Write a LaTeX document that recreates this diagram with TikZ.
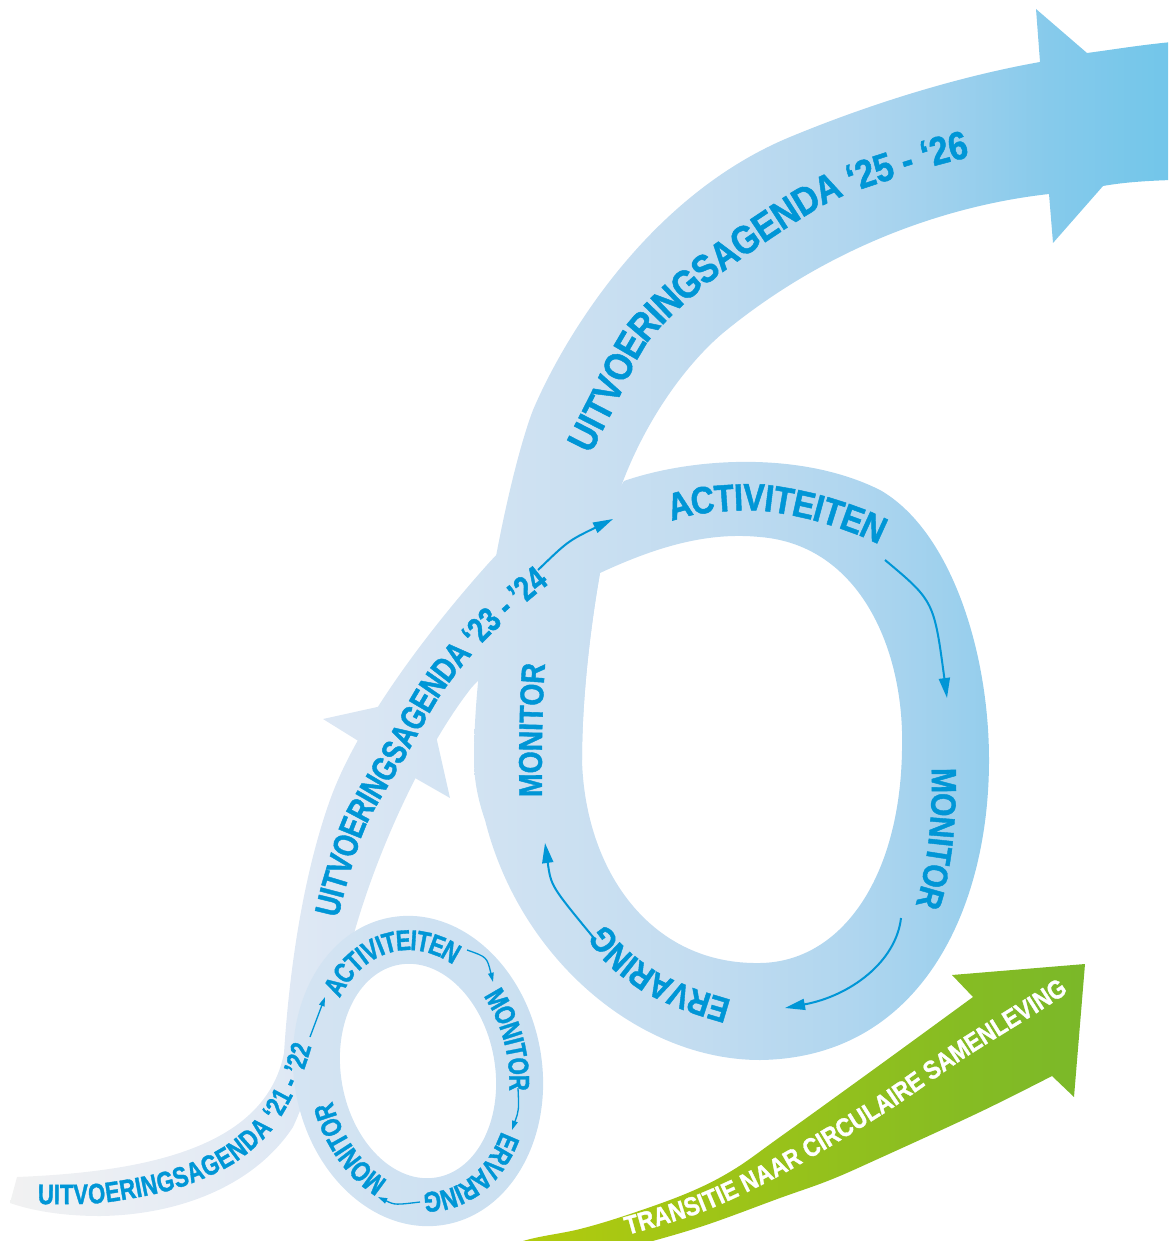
\documentclass[tikz,border=0pt]{standalone}
\usepackage{fontspec}
\newfontfamily\lbl[FakeStretch=0.86,FakeBold=1.2]{Liberation Sans}
\newfontfamily\lblc[FakeStretch=0.78,FakeBold=1.2]{Liberation Sans}
\usetikzlibrary{decorations.text,arrows.meta}
\definecolor{tb}{HTML}{0096D6}
\definecolor{r0}{HTML}{F2F2F2}
\definecolor{r1}{HTML}{E8EDF4}
\definecolor{r2}{HTML}{DEE8F4}
\definecolor{r3}{HTML}{D0E2F2}
\definecolor{r4}{HTML}{C2DCF0}
\definecolor{r5}{HTML}{B0D6EF}
\definecolor{r6}{HTML}{9DD0ED}
\definecolor{r7}{HTML}{86CAEB}
\definecolor{r8}{HTML}{72C6EA}
\definecolor{g0}{HTML}{B7CD0B}
\definecolor{g1}{HTML}{7AB829}
\pgfdeclarehorizontalshading{ribbon}{100bp}{color(0bp)=(r0); color(25bp)=(r0); color(31.42bp)=(r1); color(37.84bp)=(r2); color(46.40bp)=(r3); color(54.97bp)=(r4); color(61.39bp)=(r5); color(65.67bp)=(r6); color(69.95bp)=(r7); color(75bp)=(r8); color(100bp)=(r8)}
\tikzset{
  bigarrow/.style={tb, line width=0.5pt, -{Triangle[length=5pt,width=2.75pt]}},
  smallarrow/.style={tb, line width=0.33pt, -{Triangle[length=2.3pt,width=1.4pt]}},
}
\begin{document}
\begin{tikzpicture}[x=0.25pt,y=-0.25pt]
\useasboundingbox (0,0) rectangle (1168,1241);
\clip (0,0) rectangle (1168,1241);

% ---- ribbon: start band, '21-'22 and '23-'24
\begin{scope}
\clip (17,1177) .. controls (140,1172) and (265,1150) .. (284,1053)
  .. controls (290,960) and (305,870) .. (330,800)
  .. controls (355,730) and (420,640) .. (487,565)
  .. controls (520,528) and (550,508) .. (575,500)
  -- (560,598) -- (472,687)
  .. controls (430,740) and (380,840) .. (353,937)
  .. controls (335,1000) and (315,1080) .. (293,1127)
  .. controls (255,1185) and (180,1215) .. (100,1216)
  .. controls (60,1216) and (30,1210) .. (10,1203) -- cycle;
\shade[shading=ribbon] (0,0) rectangle (1168,1241);
\end{scope}
% barbs of the first arrow head
\begin{scope}
\clip (323,719) -- (427,696) -- (450,798) -- (415,778) -- (360,742) -- cycle;
\shade[shading=ribbon] (0,0) rectangle (1168,1241);
\end{scope}
% small ring
\begin{scope}[even odd rule, rotate around={10:(418,1071)}]
\clip (418,1071) ellipse [x radius=124, y radius=156] (418,1071) ellipse [x radius=77, y radius=108];
\shade[shading=ribbon] (-200,-200) rectangle (1400,1500);
\end{scope}
% big loop
\begin{scope}[even odd rule]
\clip (624,481) .. controls (690,458) and (800,450) .. (880,490)
  .. controls (950,530) and (989,650) .. (989,760)
  .. controls (989,910) and (920,1058) .. (760,1060)
  .. controls (640,1060) and (520,960) .. (485,820)
  .. controls (478,800) and (474,780) .. (474,760)
  -- (560,570) -- (600,520) -- cycle
  (600,573) .. controls (660,545) and (710,532) .. (760,537)
  .. controls (860,545) and (905,650) .. (902,750)
  .. controls (900,880) and (840,962) .. (760,963)
  .. controls (650,965) and (585,870) .. (582,760)
  .. controls (582,700) and (590,630) .. (600,573) -- cycle;
\shade[shading=ribbon] (0,0) rectangle (1168,1241);
\end{scope}
% upward band with arrow head
\begin{scope}
\clip (474,760) .. controls (474,640) and (510,470) .. (533,410)
  .. controls (565,335) and (650,195) .. (790,137)
  .. controls (860,108) and (950,78) .. (1040,62)
  -- (1036,9) -- (1087,53) .. controls (1110,50) and (1140,45) .. (1172,42)
  -- (1172,180) .. controls (1140,181) and (1120,183) .. (1103,186)
  -- (1053,243) -- (1049,194)
  .. controls (950,205) and (830,245) .. (723,333)
  .. controls (670,378) and (612,470) .. (600,573)
  .. controls (590,630) and (582,700) .. (582,760) -- cycle;
\shade[shading=ribbon] (0,0) rectangle (1168,1241);
\end{scope}

% ---- green arrow
\shade[left color=g0, right color=g1] plot[smooth, tension=0.6] coordinates {(470,1262) (523,1241) (580,1229) (633,1213) (690,1192) (733,1170) (780,1137) (877,1067) (973,997)}
 -- (952,975) -- (1085,964) -- (1074,1097) -- (1052,1076)
 -- plot[smooth, tension=0.6] coordinates {(1052,1076) (980,1112) (880,1158) (830,1180) (780,1198) (700,1227) (620,1250) (560,1266)} -- cycle;

% ---- small cycle arrows
\coordinate (s1s) at (310,1037); \coordinate (s1e) at (325,997);
\coordinate (s2s) at (467,950);  \coordinate (s2e) at (493,982);
\coordinate (s3s) at (518,1088); \coordinate (s3e) at (512,1130);
\coordinate (s4s) at (420,1202); \coordinate (s4e) at (378,1197);
\draw[smallarrow] (s1s) -- (s1e);
\draw[smallarrow] (s2s) .. controls (487,957) .. (s2e);
\draw[smallarrow] (s3s) .. controls (519,1110) .. (s3e);
\draw[smallarrow] (s4s) .. controls (395,1205) .. (s4e);

% ---- big cycle arrows
\coordinate (b1s) at (538,570); \coordinate (b1e) at (613,519);
\coordinate (b2s) at (885,560); \coordinate (b2e) at (947,698);
\coordinate (b3s) at (901,918); \coordinate (b3e) at (785,1008);
\coordinate (b4s) at (593,937); \coordinate (b4e) at (545,843);
\draw[bigarrow] (b1s) .. controls (568,541) .. (b1e);
\draw[bigarrow] (b2s) .. controls (934,601) .. (b2e);
\draw[bigarrow] (b3s) .. controls (896,962) and (850,996) .. (b3e);
\draw[bigarrow] (b4s) .. controls (551,886) .. (b4e);

% ---- texts along the ribbon
\path[decorate, decoration={text along path, text color=tb, raise=-2.5pt,
  text={|\lblc\bfseries\fontsize{7.05}{7.05}\selectfont|UITVOERINGSAGENDA ‘21 - ’22}}]
  plot[smooth] coordinates {(38,1194) (100,1193) (170,1180) (225,1157) (263,1125) (287,1085) (300,1050) (310,1010) (318,960) (330,900)};
\path[decorate, decoration={text along path, text color=tb, raise=-3.1pt,
  text={|\lblc\bfseries\fontsize{8.7}{8.7}\selectfont|UITVOERINGSAGENDA ‘23 - ’24}}]
  plot[smooth] coordinates {(326,915) (335,880) (355,820) (395,750) (431,687) (470,638) (510,600) (550,568) (600,540) (650,520) (700,505)};
\path[decorate, decoration={text along path, text color=tb, raise=-3.5pt,
  text={|\lbl\bfseries\fontsize{9.9}{9.9}\selectfont|UITVOERINGSAGENDA ‘25 - ‘26}}]
  plot[smooth] coordinates {(578,448) (600,405) (638,332) (705,268) (815,194) (890,165) (960,145) (1040,132) (1100,125) (1160,120)};

% ---- big cycle labels
\path[decorate, decoration={text along path, text color=tb, raise=-3.4pt,
  text={|\lbl\bfseries\fontsize{9.5}{9.5}\selectfont|ACTIVITEITEN}}]
  plot[smooth] coordinates {(668,508) (700,500) (760,497) (820,508) (880,530) (930,565) (960,620) (975,680)};
\path[decorate, decoration={text along path, text color=tb, raise=-3.1pt,
  text={|\lbl\bfseries\fontsize{8.75}{8.75}\selectfont|MONITOR}}]
  plot[smooth] coordinates {(944,768) (944,800) (940,850) (930,900) (910,950) (880,990) (840,1015)};
\path[decorate, decoration={text along path, text color=tb, raise=-3.1pt,
  text={|\lbl\bfseries\fontsize{8.75}{8.75}\selectfont|ERVARING}}]
  plot[smooth] coordinates {(728,1012) (690,1000) (650,982) (615,955) (590,920) (575,880) (565,830)};
\path[decorate, decoration={text along path, text color=tb, raise=-3pt,
  text={|\lbl\bfseries\fontsize{8.25}{8.25}\selectfont|MONITOR}}]
  plot[smooth] coordinates {(530,797) (530,740) (532,680) (537,620) (545,570) (560,520)};

% ---- small cycle labels
\path[rotate around={10:(418,1071)}, decorate, decoration={text along path, text color=tb, raise=-2.55pt,
  text={|\lblc\bfseries\fontsize{7.15}{7.15}\selectfont|ACTIVITEITEN}}]
  (418,1071) ++(224:100.5 and 132) arc[start angle=224, end angle=340, x radius=100.5, y radius=132];
\path[rotate around={10:(418,1071)}, decorate, decoration={text along path, text color=tb, raise=-2.55pt,
  text={|\lblc\bfseries\fontsize{7.15}{7.15}\selectfont|MONITOR}}]
  (418,1071) ++(-30:100.5 and 132) arc[start angle=-30, end angle=50, x radius=100.5, y radius=132];
\path[rotate around={10:(418,1071)}, decorate, decoration={text along path, text color=tb, raise=-2.55pt,
  text={|\lblc\bfseries\fontsize{7.15}{7.15}\selectfont|ERVARING}}]
  (418,1071) ++(37:100.5 and 132) arc[start angle=37, end angle=130, x radius=100.5, y radius=132];
\path[rotate around={10:(418,1071)}, decorate, decoration={text along path, text color=tb, raise=-2.55pt,
  text={|\lblc\bfseries\fontsize{7.15}{7.15}\selectfont|MONITOR}}]
  (418,1071) ++(124:100.5 and 132) arc[start angle=124, end angle=210, x radius=100.5, y radius=132];

% ---- green label
\path[decorate, decoration={text along path, text color=white, raise=-2.3pt,
  text={|\lbl\bfseries\fontsize{6.5}{6.5}\selectfont|TRANSITIE NAAR CIRCULAIRE SAMENLEVING}}]
  plot[smooth] coordinates {(625,1226) (700,1203) (780,1165) (880,1105) (960,1050) (1040,1000) (1100,960) (1160,920) (1220,880) (1280,840)};
\end{tikzpicture}
\end{document}
